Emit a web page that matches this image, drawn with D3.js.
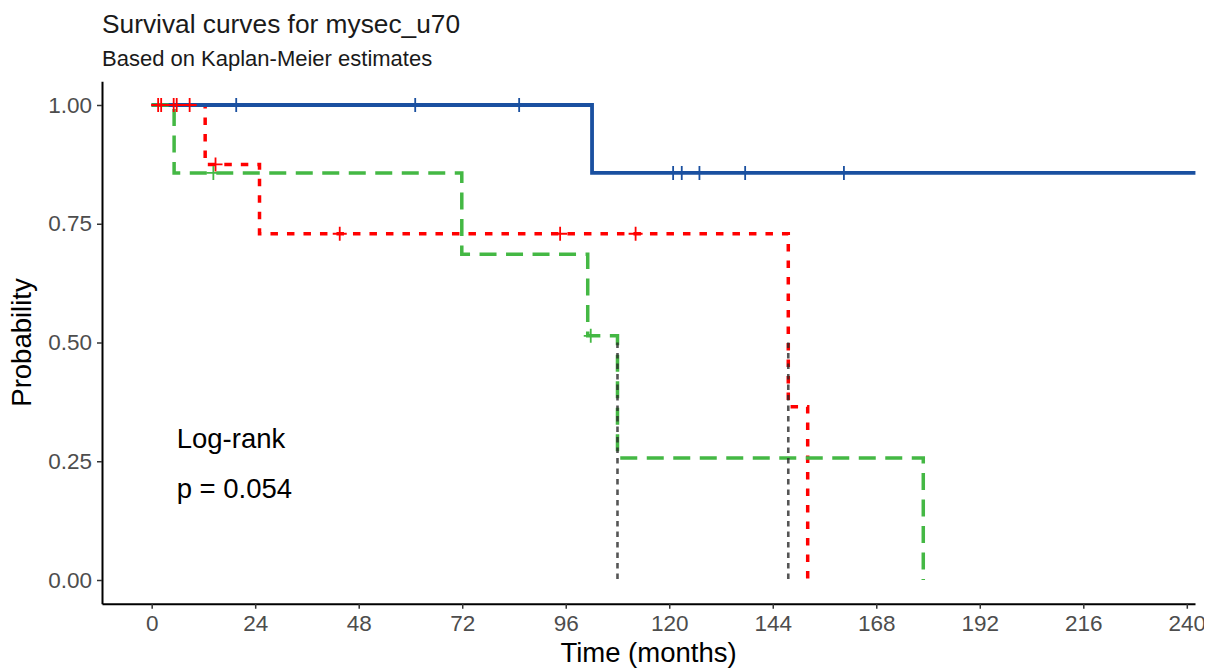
<!DOCTYPE html>
<html>
<head>
<meta charset="utf-8">
<script src="https://cdn.jsdelivr.net/npm/d3@7"></script>
<style>
  html, body { margin: 0; padding: 0; background: #ffffff; }
  svg { display: block; font-family: "Liberation Sans", Arial, sans-serif; }
</style>
</head>
<body>
<svg id="chart" width="1219" height="670"></svg>
<script>
// Kaplan-Meier step points (time in months, survival probability) per stratum
const stratum1Times = [0, 102.1, 242];
const stratum1Surv  = [1, 0.857, 0.857];
const stratum1Censor = [19.6, 61.1, 85.2, 120.9, 122.9, 127.0, 137.6, 160.5];

const stratum2Times = [0, 12.4, 25.0, 147.6, 152.1];
const stratum2Surv  = [1, 0.875, 0.729, 0.365, 0];
const stratum2Censor = [1.5, 2.2, 5.1, 5.8, 8.8, 14.8, 43.6, 94.7, 112.2];

const stratum3Times = [0, 5.2, 71.9, 101.1, 108.0, 178.9];
const stratum3Surv  = [1, 0.857, 0.686, 0.514, 0.257, 0];
const stratum3Censor = [14.3, 101.8];

// Median survival times (vertical reference lines)
const medianTimes = [108.0, 147.6];

const xTicks = [0, 24, 48, 72, 96, 120, 144, 168, 192, 216, 240];
const yTicks = [0, 0.25, 0.5, 0.75, 1.0];

const titleText = "Survival curves for mysec_u70";
const subtitleText = "Based on Kaplan-Meier estimates";
const xTitle = "Time (months)";
const yTitle = "Probability";
const pvalLines = ["Log-rank", "p = 0.054"];

const svg = d3.select("#chart");
svg.append("defs").append("clipPath").attr("id", "pageClip")
  .append("rect").attr("x", 0).attr("y", 0).attr("width", 1204).attr("height", 670);
const root = svg.append("g").attr("clip-path", "url(#pageClip)");

const x = d3.scaleLinear().domain([-11.52, 241.9]).range([102, 1195]);
const y = d3.scaleLinear().domain([-0.05, 1.05]).range([603.75, 81.25]);

const strata = [
  { times: stratum2Times, surv: stratum2Surv, censor: stratum2Censor, color: "#FF0000", dash: "7.5,9", width: 3.5 },
  { times: stratum1Times, surv: stratum1Surv, censor: stratum1Censor, color: "#1A50A0", dash: null, width: 3.8 },
  { times: stratum3Times, surv: stratum3Surv, censor: stratum3Censor, color: "#44B844", dash: "17,9.5", width: 3.5 }
];

// survival at time t (right-continuous step)
function survAt(s, t) {
  let v = s.surv[0];
  for (let i = 0; i < s.times.length; i++) if (s.times[i] <= t) v = s.surv[i];
  return v;
}

const line = d3.line().x(d => x(d[0])).y(d => y(d[1])).curve(d3.curveStepAfter);

const curves = root.append("g");
strata.forEach(s => {
  const pts = s.times.map((t, i) => [t, s.surv[i]]);
  curves.append("path")
    .attr("d", line(pts))
    .attr("fill", "none")
    .attr("stroke", s.color)
    .attr("stroke-width", s.width)
    .attr("stroke-dasharray", s.dash)
    .attr("stroke-linejoin", "miter");
});

// censoring marks
const marks = root.append("g");
const arm = 7;
strata.forEach(s => {
  s.censor.forEach(t => {
    const cx = x(t), cy = y(survAt(s, t));
    marks.append("path")
      .attr("d", `M${cx - arm},${cy}H${cx + arm}M${cx},${cy - arm}V${cy + arm}`)
      .attr("stroke", s.color)
      .attr("stroke-width", 1.8)
      .attr("fill", "none");
  });
});

// median survival lines
root.append("g").selectAll("line").data(medianTimes).join("line")
  .attr("x1", d => x(d)).attr("x2", d => x(d))
  .attr("y1", y(0.5)).attr("y2", y(0))
  .attr("stroke", "#2b2b2b")
  .attr("stroke-opacity", 0.8)
  .attr("stroke-width", 2.6)
  .attr("stroke-dasharray", "5.5,5");

// axes
const xAxis = root.append("g").attr("transform", `translate(0,${y.range()[0]})`)
  .call(d3.axisBottom(x).tickValues(xTicks).tickSize(5).tickPadding(6).tickSizeOuter(0));
const yAxis = root.append("g").attr("transform", `translate(${x.range()[0]},0)`)
  .call(d3.axisLeft(y).tickValues(yTicks).tickSize(5).tickPadding(5).tickSizeOuter(0)
    .tickFormat(d3.format(".2f")));

[xAxis, yAxis].forEach(a => {
  a.select(".domain").attr("stroke", "#000").attr("stroke-width", 2);
  a.selectAll(".tick line").attr("stroke", "#333").attr("stroke-width", 1.5);
  a.selectAll(".tick text").attr("fill", "#4D4D4D").attr("font-size", 22.5)
    .attr("font-family", "Liberation Sans, Arial, sans-serif");
});

// titles
root.append("text").attr("x", 102).attr("y", 33)
  .attr("font-size", 26.3).attr("fill", "#1a1a1a").text(titleText);
root.append("text").attr("x", 102).attr("y", 66)
  .attr("font-size", 22).attr("fill", "#1a1a1a").text(subtitleText);

root.append("text").attr("x", (x.range()[0] + x.range()[1]) / 2).attr("y", 662)
  .attr("text-anchor", "middle").attr("font-size", 27.5).attr("fill", "#000").text(xTitle);
root.append("text")
  .attr("transform", `translate(31,${(y.range()[0] + y.range()[1]) / 2}) rotate(-90)`)
  .attr("text-anchor", "middle").attr("font-size", 27.5).attr("fill", "#000").text(yTitle);

// log-rank annotation
root.append("g").selectAll("text").data(pvalLines).join("text")
  .attr("x", x(5.8))
  .attr("y", (d, i) => 448 + i * 50)
  .attr("font-size", 27.5).attr("fill", "#000")
  .text(d => d);
</script>
</body>
</html>
